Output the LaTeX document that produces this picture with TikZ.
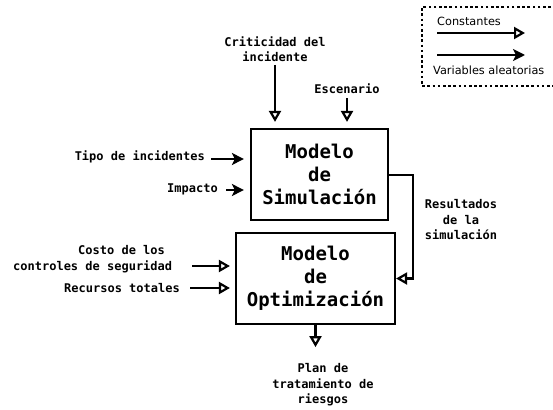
\documentclass[tikz,border=0pt]{standalone}
\usepackage{fontspec}
\setmainfont{DejaVu Sans}
\newfontfamily\monofam{DejaVu Sans Mono}
\usetikzlibrary{arrows.meta,calc}
\tikzset{
  box/.style={draw, line width=2.2pt, inner sep=0pt, align=center,
    font=\monofam\bfseries\fontsize{19}{23}\selectfont},
  lbl/.style={align=center, inner sep=2pt, font=\monofam\bfseries\fontsize{12}{15.5}\selectfont},
  constarrow/.style={line width=2.8pt, -{Triangle[open, length=11pt, width=12pt, line width=2.2pt]}},
  vararrow/.style={line width=2.8pt, -{Stealth[length=12pt, width=12pt, inset=3pt]}},
  legtext/.style={inner sep=0pt, anchor=west, font=\fontsize{11.3}{13}\selectfont},
}
\begin{document}
\begin{tikzpicture}[x=1pt, y=-1pt]
\useasboundingbox (0,0) rectangle (553,409);

% boxes
\node[box, minimum width=137pt, minimum height=91pt] (sim) at (319.5,174.5) {Modelo\\de\\Simulación};
\node[box, minimum width=159pt, minimum height=91pt] (opt) at (315.5,278.5) {Modelo\\de\\Optimización};

% labels
\node[lbl] (crit) at (275,49) {Criticidad del\\incidente};
\node[lbl] (esc) at (347,89) {Escenario};
\node[lbl, anchor=east] (tipo) at (207,157) {Tipo de incidentes};
\node[lbl, anchor=east] (imp) at (220,189) {Impacto};
\node[lbl, align=left, anchor=west] (costo) at (11,259) {\phantom{xxxxxxxxx}Costo de los\\controles de seguridad};
\node[lbl, anchor=east] (rec) at (182,288) {Recursos totales};
\node[lbl] (res) at (461,220) {Resultados\\de la\\simulación};
\node[lbl] (plan) at (323,385) {Plan de\\tratamiento de\\riesgos};

% input arrows
\draw[constarrow, shorten <=1pt, shorten >=6pt] (crit.south) -- (crit.south |- sim.north);
\draw[constarrow, shorten <=2pt, shorten >=6pt] (esc.south) -- (esc.south |- sim.north);
\draw[vararrow, shorten <=4pt, shorten >=6pt] ($(tipo.east)+(0,2)$) -- ($(tipo.east -| sim.west)+(0,2)$);
\draw[vararrow, shorten <=6pt, shorten >=6pt] ($(imp.east)+(0,1)$) -- ($(imp.east -| sim.west)+(0,1)$);
\coordinate (cst) at (192,266);
\draw[constarrow, shorten >=5pt] (cst) -- (cst -| opt.west);
\draw[constarrow, shorten <=8pt, shorten >=5pt] (rec.east) -- (rec.east -| opt.west);

% connection between models
\coordinate (bend) at (413,175);
\draw[constarrow, line join=miter] (sim.east |- bend) -- (bend) -- (bend |- opt.east) -- (opt.east);

% output
\draw[constarrow] (opt.south) -- ($(opt.south)+(0,22)$) coordinate (outend);

% legend
\draw[line width=2.6pt, dash pattern=on 2.6pt off 2.6pt] (556,7) -- (422,7) -- (422,86) -- (556,86);
\node[legtext] (lc) at (437,21) {Constantes};
\coordinate (la1) at (437,33);
\coordinate (la2) at (525,33);
\draw[constarrow] (la1) -- (la2);
\coordinate (lb1) at (437,55);
\coordinate (lb2) at (525,55);
\draw[vararrow] (lb1) -- (lb2);
\node[legtext] (lv) at (433,70) {Variables aleatorias};
\end{tikzpicture}
\end{document}
